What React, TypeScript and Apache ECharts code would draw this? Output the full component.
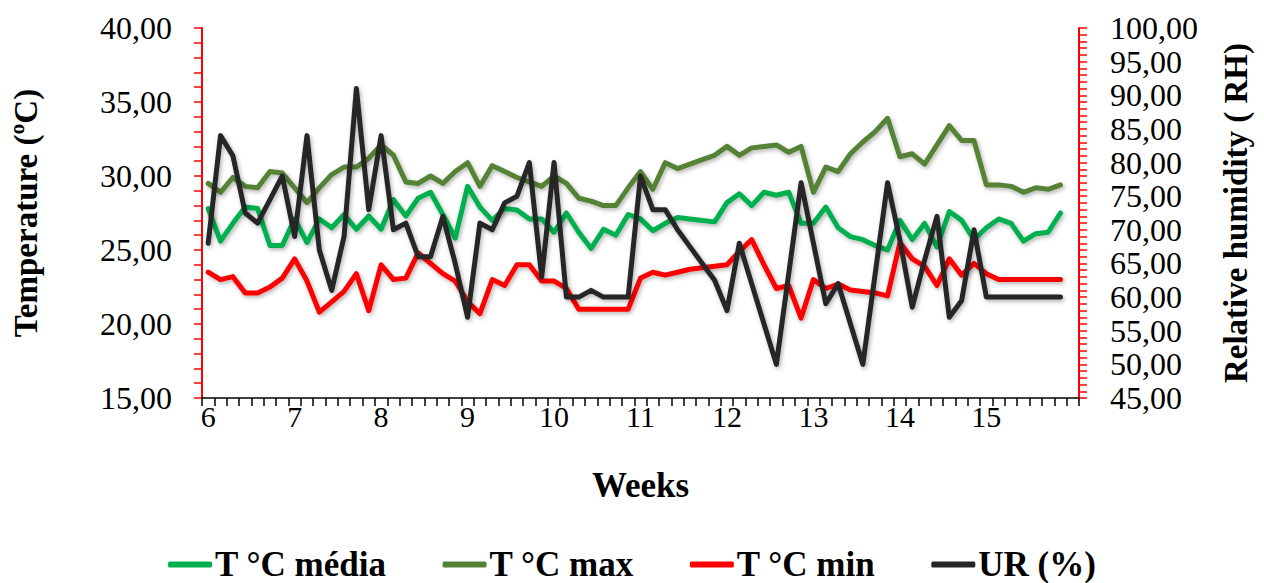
import React, { useEffect, useRef } from "react";
import * as echarts from "echarts";

const weekLabels = ["6", "7", "8", "9", "10", "11", "12", "13", "14", "15"];
const daysPerWeek = 7;
const categoryCount = 71;

const tMedia = [
  27.8, 25.6, 26.8, 27.9, 27.8, 25.3, 25.3, 27.1, 25.5, 27.1,
  26.5, 27.4, 26.4, 27.3, 26.4, 28.4, 27.3, 28.5, 28.9, 27.4,
  25.8, 29.3, 27.9, 27.0, 27.8, 27.7, 27.1, 27.1, 26.2, 27.5,
  26.2, 25.1, 26.4, 26.0, 27.4, 27.1, 26.3, 26.8, 27.2, 27.1,
  27.0, 26.9, 28.2, 28.8, 28.0, 28.9, 28.7, 28.9, 26.8, 26.8,
  27.9, 26.5, 25.9, 25.7, 25.3, 25.0, 27.0, 25.7, 26.8, 25.2,
  27.6, 27.0, 25.7, 26.5, 27.1, 26.8, 25.6, 26.1, 26.2, 27.5,
];

const tMax = [
  29.5, 28.9, 29.9, 29.3, 29.2, 30.3, 30.2, 29.2, 28.2, 29.2,
  30.1, 30.6, 30.6, 31.2, 32.1, 31.4, 29.6, 29.5, 30.0, 29.5,
  30.3, 30.9, 29.3, 30.7, 30.3, 29.9, 29.6, 29.3, 30.0, 29.5,
  28.5, 28.3, 28.0, 28.0, 29.2, 30.3, 29.1, 30.9, 30.5, 30.8,
  31.1, 31.4, 32.0, 31.4, 31.9, 32.0, 32.1, 31.6, 32.0, 28.9,
  30.6, 30.3, 31.5, 32.3, 33.0, 33.9, 31.3, 31.5, 30.8, 32.1,
  33.4, 32.4, 32.4, 29.4, 29.4, 29.3, 28.9, 29.2, 29.1, 29.4,
];

const tMin = [
  23.5, 23.0, 23.2, 22.1, 22.1, 22.5, 23.1, 24.4, 22.9, 20.8,
  21.5, 22.2, 23.4, 20.9, 24.0, 23.0, 23.1, 24.8, 24.1, 23.4,
  22.9, 21.5, 20.7, 23.0, 22.6, 24.0, 24.0, 22.9, 22.9, 22.4,
  21.0, 21.0, 21.0, 21.0, 21.0, 23.1, 23.5, 23.3, 23.5, 23.7,
  23.8, 23.9, 24.0, 24.9, 25.7, 24.0, 22.4, 22.6, 20.4, 23.0,
  22.4, 22.7, 22.3, 22.2, 22.1, 21.9, 25.5, 24.4, 23.9, 22.6,
  24.4, 23.3, 24.1, 23.4, 23.0, 23.0, 23.0, 23.0, 23.0, 23.0,
];

const ur = [
  68, 84, 81, 72.5, 71, 74.5, 78, 69, 84, 67,
  61, 69, 91, 73, 84, 70, 71, 66, 66, 72,
  65, 57, 71, 70, 74, 75, 80, 63, 80, 60,
  60, 61, 60, 60, 60, 78, 73, 73, 70, 67.5,
  65, 62.5, 58, 68, 62, 56, 50, 63.5, 77, 68,
  59, 62, 56, 50, 63.5, 77, 68.5, 58.5, 65.5, 72,
  57, 59.5, 70, 60, 60, 60, 60, 60, 60, 60,
];

const seriesNames = ["T °C média", "T °C max", "T °C min", "UR (%)"];
const seriesColors = ["#00B050", "#548235", "#FF0000", "#262626"];

const FONT = "'Liberation Serif', 'Times New Roman', serif";

const categories: string[] = Array.from({ length: categoryCount }, (_, i) =>
  i % daysPerWeek === 0 && weekLabels[i / daysPerWeek] !== undefined
    ? weekLabels[i / daysPerWeek]
    : ""
);

const fmt = (v: number) => v.toFixed(2).replace(".", ",");

export default function App() {
  const ref = useRef<HTMLDivElement>(null);

  useEffect(() => {
    if (!ref.current) return;
    const chart = echarts.init(ref.current, null, { renderer: "svg" });
    const dataSets = [tMedia, tMax, tMin, ur];
    const axisIdx = [0, 0, 0, 1];

    const yCommon = (color: string) => ({
      type: "value",
      splitLine: { show: false },
      axisLine: { show: true, lineStyle: { color, width: 2 } },
      axisTick: { show: true, length: 8, lineStyle: { color, width: 1.5 } },
      minorTick: { show: true, splitNumber: 5, length: 8, lineStyle: { color, width: 1.5 } },
      minorSplitLine: { show: false },
    });

    chart.setOption({
      animation: false,
      backgroundColor: "#ffffff",
      grid: { left: 202, right: 185, top: 28, bottom: 185, containLabel: false },
      legend: {
        data: seriesNames.map((n) => ({ name: n, icon: "roundRect" })),
        top: 547,
        left: "center",
        padding: 0,
        itemWidth: 44,
        itemHeight: 6,
        itemGap: 56,
        textStyle: {
          fontFamily: FONT,
          fontWeight: "bold",
          fontSize: 35,
          lineHeight: 34,
          color: "#000",
          padding: [0, 0, 0, -2],
        },
      },
      xAxis: {
        type: "category",
        data: categories,
        boundaryGap: true,
        axisLine: { lineStyle: { color: "#000", width: 1.5 } },
        axisTick: { show: true, interval: 0, length: 8, lineStyle: { color: "#000", width: 1.5 } },
        axisLabel: { interval: 0, fontFamily: FONT, fontSize: 30, color: "#000", margin: 3 },
        name: "Weeks",
        nameLocation: "middle",
        nameGap: 70,
        nameTextStyle: { fontFamily: FONT, fontWeight: "bold", fontSize: 35, color: "#000" },
      },
      yAxis: [
        {
          ...yCommon("#FF0000"),
          position: "left",
          min: 15,
          max: 40,
          interval: 5,
          axisLabel: { formatter: fmt, fontFamily: FONT, fontSize: 32, color: "#000", margin: 30 },
          name: "Temperature (ºC)",
          nameLocation: "middle",
          nameRotate: 90,
          nameGap: 160,
          nameTextStyle: { fontFamily: FONT, fontWeight: "bold", fontSize: 33, color: "#000" },
        },
        {
          ...yCommon("#FF0000"),
          position: "right",
          min: 45,
          max: 100,
          interval: 5,
          axisLabel: { formatter: fmt, fontFamily: FONT, fontSize: 32, color: "#000", margin: 31 },
          name: "Relative humidity ( RH)",
          nameLocation: "middle",
          nameRotate: 90,
          nameGap: 140,
          nameTextStyle: { fontFamily: FONT, fontWeight: "bold", fontSize: 33, color: "#000" },
        },
      ],
      series: seriesNames.map((name, k) => ({
        name,
        type: "line",
        yAxisIndex: axisIdx[k],
        data: dataSets[k],
        showSymbol: false,
        symbol: "none",
        itemStyle: { color: seriesColors[k] },
        lineStyle: {
          color: seriesColors[k],
          width: 5,
          join: "round",
          cap: "round",
          shadowBlur: 4,
          shadowColor: "rgba(0,0,0,0.3)",
          shadowOffsetX: 1.5,
          shadowOffsetY: 2,
        },
      })),
    });

    return () => chart.dispose();
  }, []);

  return (
    <div
      ref={ref}
      style={{ position: "absolute", left: 0, top: 0, width: 1264, height: 583 }}
    />
  );
}
